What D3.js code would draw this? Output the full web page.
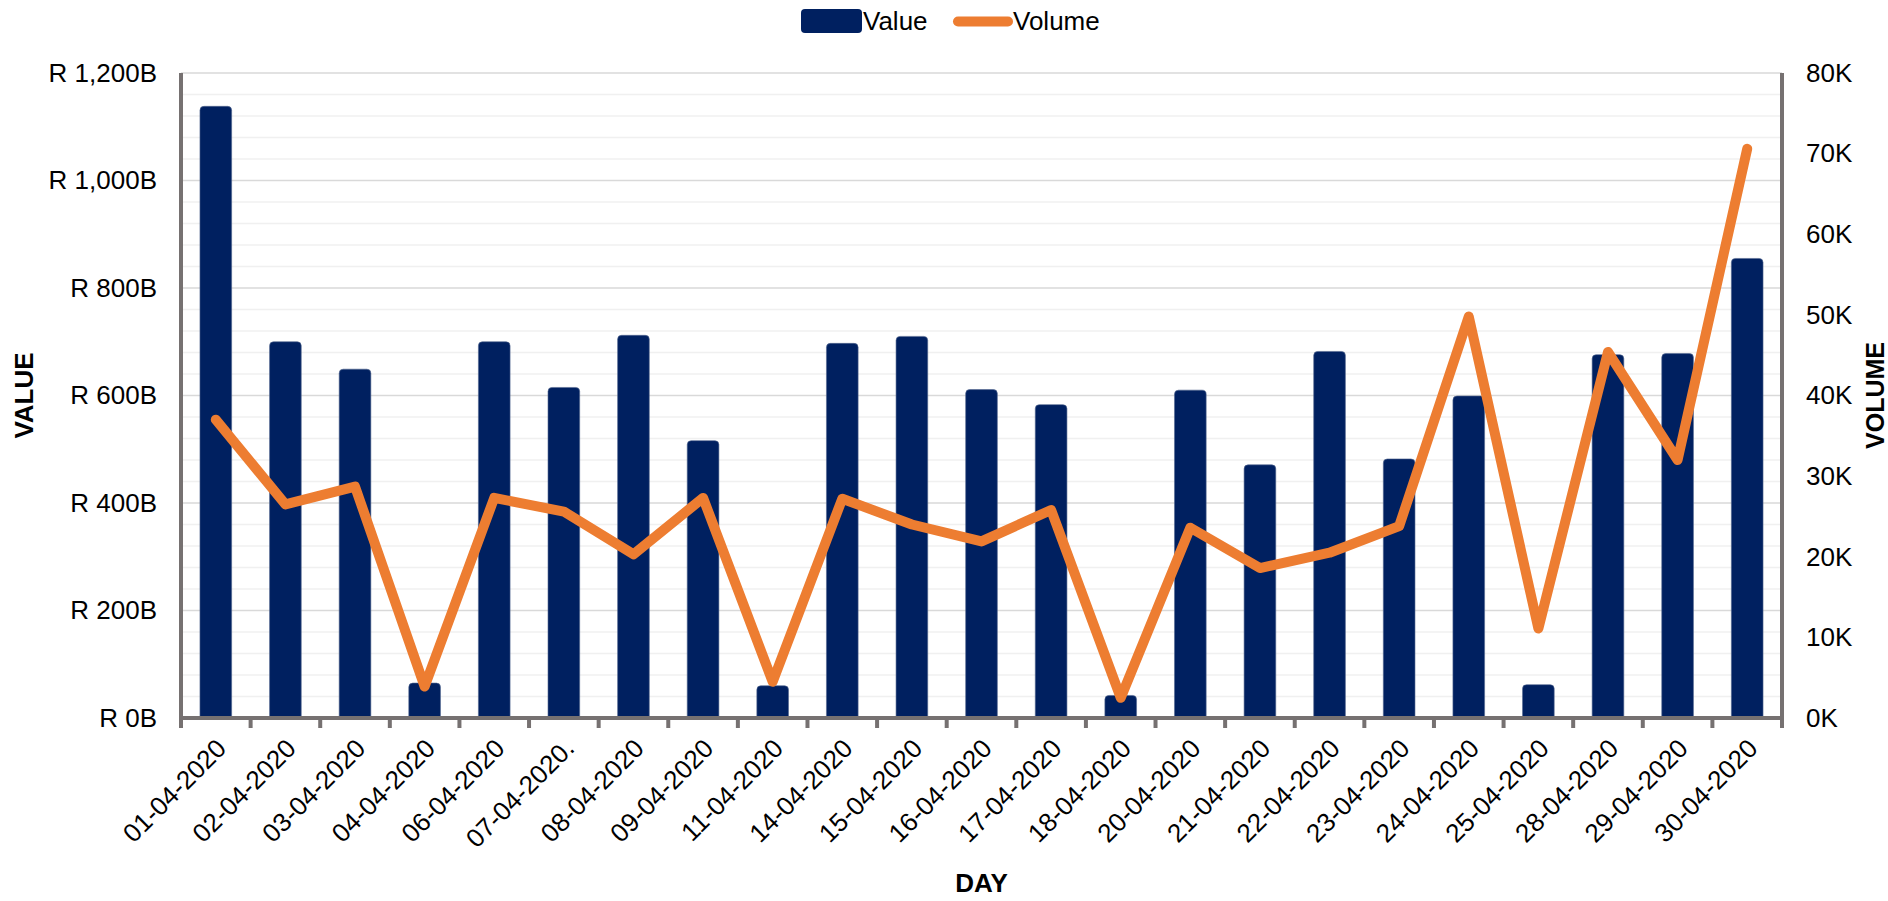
<!doctype html>
<html>
<head>
<meta charset="utf-8">
<title>Value and Volume by Day</title>
<script src="https://d3js.org/d3.v7.min.js"></script>
<style>
  body { margin: 0; background: #fff; }
  text { font-family: "Liberation Sans", Arial, sans-serif; fill: #000; }
</style>
</head>
<body>
<div id="chart"></div>
<script>
// data
var days = ["01-04-2020", "02-04-2020", "03-04-2020", "04-04-2020", "06-04-2020", "07-04-2020.",
            "08-04-2020", "09-04-2020", "11-04-2020", "14-04-2020", "15-04-2020", "16-04-2020",
            "17-04-2020", "18-04-2020", "20-04-2020", "21-04-2020", "22-04-2020", "23-04-2020",
            "24-04-2020", "25-04-2020", "28-04-2020", "29-04-2020", "30-04-2020"];
// Value in R billions
var values = [1138, 700, 649, 65, 700, 615, 712, 516, 60, 697, 710, 611,
              583, 42, 610, 471, 682, 482, 599, 62, 676, 678, 855];
// Volume in thousands
var volumes = [37.0, 26.5, 28.7, 3.9, 27.3, 25.6, 20.3, 27.3, 4.5, 27.2, 24.0, 21.9,
               25.8, 2.5, 23.6, 18.6, 20.5, 23.8, 49.8, 11.1, 45.4, 32.0, 70.6];
var valueTicks = [0, 200, 400, 600, 800, 1000, 1200];
var volumeTicks = [0, 10, 20, 30, 40, 50, 60, 70, 80];

var W = 1888, H = 901;
var margin = {top: 73, right: 106, bottom: 183, left: 181};
var width = W - margin.left - margin.right,
    height = H - margin.top - margin.bottom;

var svg = d3.select("#chart").append("svg")
    .attr("width", W).attr("height", H);
var g = svg.append("g")
    .attr("transform", "translate(" + margin.left + "," + margin.top + ")");

var x = d3.scaleBand().domain(days).range([0, width])
    .paddingInner(0.545).paddingOuter(0.2725);
var y = d3.scaleLinear().domain([0, 1200]).range([height, 0]);
var y2 = d3.scaleLinear().domain([0, 80]).range([height, 0]);

// grid lines: minor every 40B, major every 200B
g.append("g").selectAll("line")
    .data(d3.range(40, 1200, 40).filter(function(d) { return d % 200 != 0; }))
    .enter().append("line")
    .attr("x1", 0).attr("x2", width)
    .attr("y1", function(d) { return y(d); }).attr("y2", function(d) { return y(d); })
    .attr("stroke", "#f0f0f0").attr("stroke-width", 1.5);
g.append("g").selectAll("line")
    .data(valueTicks.slice(1))
    .enter().append("line")
    .attr("x1", 0).attr("x2", width)
    .attr("y1", function(d) { return y(d); }).attr("y2", function(d) { return y(d); })
    .attr("stroke", "#d9d9d9").attr("stroke-width", 1.5);

// bars with rounded tops
var r = 4;
function barPath(d, i) {
  var x0 = x(days[i]), w = x.bandwidth(), y0 = y(d), b = y(0);
  var rr = Math.min(r, (b - y0) / 2);
  return "M" + x0 + "," + b + "V" + (y0 + rr) +
         "Q" + x0 + "," + y0 + " " + (x0 + rr) + "," + y0 +
         "H" + (x0 + w - rr) +
         "Q" + (x0 + w) + "," + y0 + " " + (x0 + w) + "," + (y0 + rr) +
         "V" + b + "Z";
}
g.append("g").selectAll("path")
    .data(values)
    .enter().append("path")
    .attr("d", barPath)
    .attr("fill", "#002060")
    .attr("stroke", "#52668f").attr("stroke-width", 0.6);

// volume line
var line = d3.line()
    .x(function(d, i) { return x(days[i]) + x.bandwidth() / 2; })
    .y(function(d) { return y2(d); });
g.append("path")
    .datum(volumes)
    .attr("d", line)
    .attr("fill", "none")
    .attr("stroke", "#ED7D31")
    .attr("stroke-width", 10)
    .attr("stroke-linejoin", "round")
    .attr("stroke-linecap", "round");

// left axis
var yAxis = g.append("g")
    .call(d3.axisLeft(y).tickValues(valueTicks).tickSize(0).tickPadding(24)
      .tickFormat(function(d) { return "R " + d3.format(",")(d) + "B"; }));
yAxis.select(".domain").remove();
yAxis.selectAll("text").attr("font-size", 26).attr("fill", "#000")
    .style("font-family", "'Liberation Sans', Arial, sans-serif");

// right axis
var yAxis2 = g.append("g")
    .attr("transform", "translate(" + width + ",0)")
    .call(d3.axisRight(y2).tickValues(volumeTicks).tickSize(0).tickPadding(24)
      .tickFormat(function(d) { return d + "K"; }));
yAxis2.select(".domain").remove();
yAxis2.selectAll("text").attr("font-size", 26).attr("fill", "#000")
    .style("font-family", "'Liberation Sans', Arial, sans-serif");

// x axis labels
var xAxis = g.append("g")
    .attr("transform", "translate(0," + height + ")")
    .call(d3.axisBottom(x).tickSize(0).tickPadding(0));
xAxis.select(".domain").remove();
xAxis.selectAll("text")
    .attr("font-size", 26).attr("fill", "#000")
    .style("font-family", "'Liberation Sans', Arial, sans-serif")
    .attr("text-anchor", "end")
    .attr("dy", 0).attr("y", 0)
    .attr("transform", "translate(12,32) rotate(-45)");

// tick marks at category boundaries
var step = x.step();
g.append("g").selectAll("line")
    .data(d3.range(days.length + 1))
    .enter().append("line")
    .attr("x1", function(i) { return i * step; }).attr("x2", function(i) { return i * step; })
    .attr("y1", height).attr("y2", height + 10)
    .attr("stroke", "#767171").attr("stroke-width", 4);

// axis lines
var axisColor = "#767171";
g.append("line").attr("x1", 0).attr("x2", 0).attr("y1", 0).attr("y2", height + 2)
    .attr("stroke", axisColor).attr("stroke-width", 4);
g.append("line").attr("x1", width).attr("x2", width).attr("y1", 0).attr("y2", height + 2)
    .attr("stroke", axisColor).attr("stroke-width", 4);
g.append("line").attr("x1", -2).attr("x2", width + 2).attr("y1", height).attr("y2", height)
    .attr("stroke", axisColor).attr("stroke-width", 4);

// axis titles
svg.append("text")
    .attr("transform", "translate(33," + (margin.top + height / 2) + ") rotate(-90)")
    .attr("text-anchor", "middle")
    .attr("font-size", 26).attr("font-weight", "bold")
    .text("VALUE");
svg.append("text")
    .attr("transform", "translate(1884," + (margin.top + height / 2) + ") rotate(-90)")
    .attr("text-anchor", "middle")
    .attr("font-size", 25).attr("font-weight", "bold")
    .text("VOLUME");
svg.append("text")
    .attr("x", margin.left + width / 2).attr("y", 892)
    .attr("text-anchor", "middle")
    .attr("font-size", 26).attr("font-weight", "bold")
    .text("DAY");

// legend
var legend = svg.append("g");
legend.append("rect")
    .attr("x", 801).attr("y", 9).attr("width", 61).attr("height", 24)
    .attr("rx", 4).attr("fill", "#002060");
legend.append("text")
    .attr("x", 863).attr("y", 30).attr("font-size", 26).text("Value");
legend.append("line")
    .attr("x1", 958).attr("x2", 1008).attr("y1", 21.5).attr("y2", 21.5)
    .attr("stroke", "#ED7D31").attr("stroke-width", 10).attr("stroke-linecap", "round");
legend.append("text")
    .attr("x", 1013).attr("y", 30).attr("font-size", 26).text("Volume");
</script>
</body>
</html>
